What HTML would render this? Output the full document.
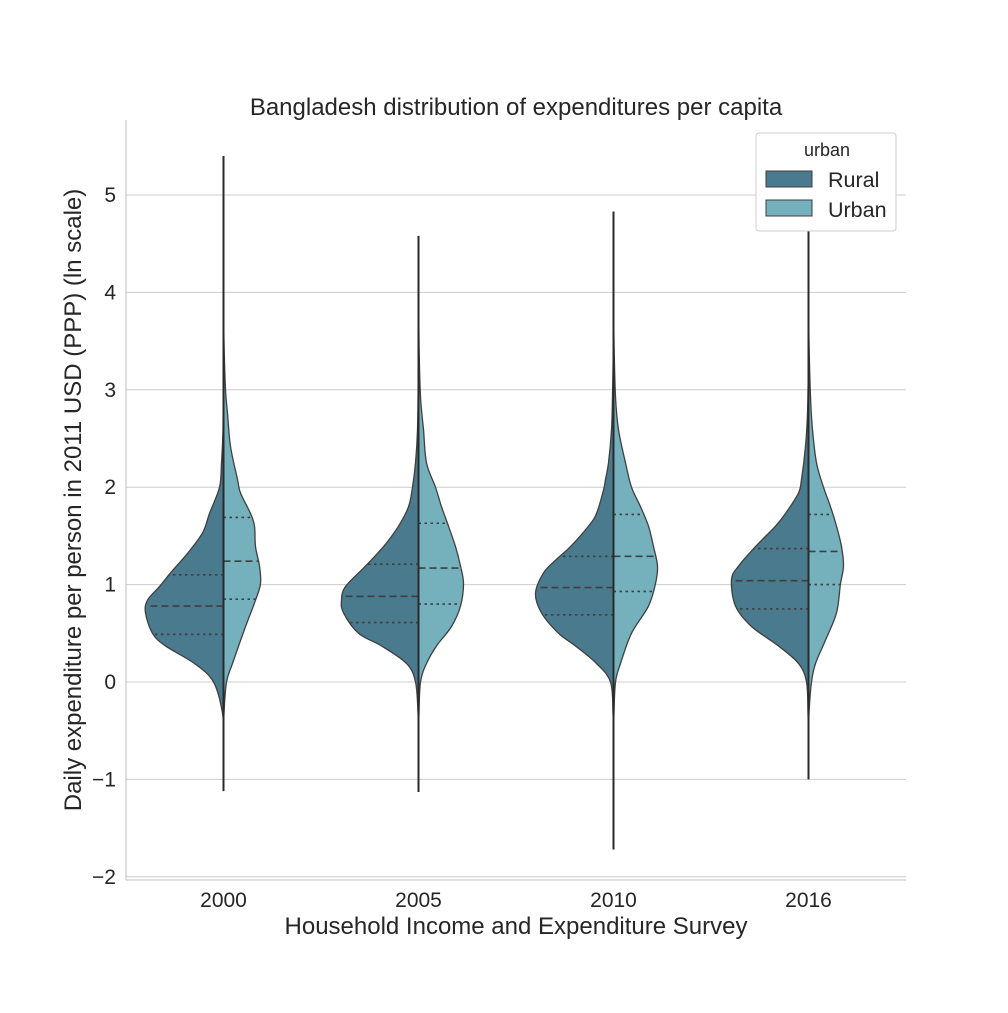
<!DOCTYPE html>
<html><head><meta charset="utf-8"><style>
body{margin:0;background:#fff;}
svg text{font-family:"Liberation Sans",Arial,sans-serif;fill:#262626;}
</style></head><body>
<svg id="chart" width="1008" height="1008" viewBox="0 0 1008 1008">
<rect width="1008" height="1008" fill="#fff"/>
<g id="grid"></g>
<g id="violins"></g>
<g id="axes"></g>
<text x="516" y="115" text-anchor="middle" font-size="24">Bangladesh distribution of expenditures per capita</text>
<text x="516" y="934" text-anchor="middle" font-size="24">Household Income and Expenditure Survey</text>
<text transform="translate(81,500) rotate(-90)" text-anchor="middle" font-size="24">Daily expenditure per person in 2011 USD (PPP) (ln scale)</text>
<g>
<rect x="756" y="133" width="140" height="98" rx="3" fill="#fff" stroke="#ccc" stroke-width="1"/>
<text x="827" y="156" text-anchor="middle" font-size="18">urban</text>
<rect x="766" y="171" width="46" height="16" fill="#497a8d" stroke="#3f3f3f"/>
<text x="828" y="187" font-size="21.5">Rural</text>
<rect x="766" y="200" width="46" height="16" fill="#75b1bc" stroke="#3f3f3f"/>
<text x="828" y="217" font-size="21.5">Urban</text>
</g>
</svg>
<script>
const categories=["2000","2005","2010","2016"];
const yTicks=[-2,-1,0,1,2,3,4,5];
const whiskerMin=[-1.12,-1.13,-1.72,-1.0];
const whiskerMax=[5.4,4.58,4.83,5.3];
// [value, density] pairs
const rural2000=[[-0.6,0],[-0.32,1],[0,10],[0.19,29],[0.37,58],[0.5,71],[0.71,78],[0.84,76],[0.98,64],[1.12,53],[1.32,36],[1.53,21],[1.73,14],[2.0,4],[2.25,2],[2.59,0.5],[3.3,0]];
const urban2000=[[-0.6,0],[-0.32,0.5],[0,3],[0.19,9],[0.54,21],[0.84,32],[1.01,37],[1.19,36],[1.39,32],[1.6,31],[1.73,27],[1.94,17],[2.08,14],[2.42,7],[2.76,4],[3.0,2],[3.5,0.5],[4.0,0]];
const rural2005=[[-0.6,0],[-0.32,0.5],[0,3],[0.19,12],[0.37,37],[0.5,60],[0.71,75],[0.84,77],[0.98,73],[1.19,53],[1.39,35],[1.6,20],[1.8,10],[2.0,6],[2.25,3],[2.59,1],[3.3,0]];
const urban2005=[[-0.6,0],[-0.32,0.5],[0,2],[0.19,8],[0.37,18],[0.57,33],[0.78,42],[1.01,45],[1.19,42],[1.39,37],[1.6,30],[1.8,23],[2.0,17],[2.25,8],[2.59,5],[2.93,2],[3.5,0.5],[4.3,0]];
const rural2010=[[-0.6,0],[-0.32,0.5],[0,3],[0.19,17],[0.37,38],[0.5,55],[0.71,72],[0.91,78],[1.12,70],[1.25,58],[1.39,43],[1.6,25],[1.73,17],[1.97,10],[2.08,8],[2.25,5],[2.59,2],[2.93,1],[3.5,0]];
const urban2010=[[-0.6,0],[-0.32,0.5],[0,2],[0.19,7],[0.5,18],[0.78,35],[1.01,42],[1.19,44],[1.39,40],[1.6,35],[1.8,27],[2.0,18],[2.25,12],[2.59,5],[2.93,2],[3.5,0.5],[4.0,0]];
const rural2016=[[-0.6,0],[-0.32,0.5],[0,2],[0.19,10],[0.37,30],[0.57,57],[0.78,73],[1.05,77],[1.19,70],[1.39,53],[1.6,33],[1.73,23],[1.94,10],[2.08,7],[2.42,3],[2.76,1],[3.3,0]];
const urban2016=[[-0.6,0],[-0.32,0.5],[0,3],[0.19,7],[0.43,17],[0.71,28],[1.01,32],[1.19,35],[1.39,33],[1.6,28],[1.8,22],[2.0,15],[2.25,8],[2.59,4],[2.93,2],[3.5,0.5],[4.0,0]];
const ruralQ=[[0.49,0.78,1.1],[0.61,0.88,1.21],[0.69,0.97,1.29],[0.75,1.04,1.37]];
const urbanQ=[[0.85,1.24,1.69],[0.8,1.17,1.63],[0.93,1.29,1.72],[1.0,1.34,1.72]];
const ruralData=[rural2000,rural2005,rural2010,rural2016];
const urbanData=[urban2000,urban2005,urban2010,urban2016];

const NS="http://www.w3.org/2000/svg";
const X0=126,X1=906,Ytop=120,Ybot=880;
function yScale(v){return 682-v*97.4;}
function xScale(i){return X0+(i+0.5)*(X1-X0)/categories.length;}
function mk(tag,attrs,parent){const e=document.createElementNS(NS,tag);for(const k in attrs)e.setAttribute(k,attrs[k]);parent.appendChild(e);return e;}
const grid=document.getElementById('grid'),vg=document.getElementById('violins'),ax=document.getElementById('axes');
yTicks.forEach(t=>{
  const y=yScale(t);
  const l=mk('line',{x1:X0,x2:X1,y1:y,y2:y,stroke:'#cccccc','stroke-width':1},grid);
  
  
  const tx=mk('text',{x:X0-10,y:y+7,'text-anchor':'end','font-size':21},ax);
  tx.textContent=t<0?'\u2212'+(-t):String(t);
  
  
});
function interp(arr,v){for(let k=0;k<arr.length-1;k++){if(v>=arr[k][0]&&v<=arr[k+1][0]){const t=(v-arr[k][0])/(arr[k+1][0]-arr[k][0]);return arr[k][1]+t*(arr[k+1][1]-arr[k][1]);}}return 0;}
function smoothPath(pts){let d='M'+pts[0][0].toFixed(2)+','+pts[0][1].toFixed(2);
  for(let i=0;i<pts.length-1;i++){const p0=pts[Math.max(0,i-1)],p1=pts[i],p2=pts[i+1],p3=pts[Math.min(pts.length-1,i+2)];
    const c1=[p1[0]+(p2[0]-p0[0])/6,p1[1]+(p2[1]-p0[1])/6],c2=[p2[0]-(p3[0]-p1[0])/6,p2[1]-(p3[1]-p1[1])/6];
    d+='C'+c1[0].toFixed(2)+','+c1[1].toFixed(2)+' '+c2[0].toFixed(2)+','+c2[1].toFixed(2)+' '+p2[0].toFixed(2)+','+p2[1].toFixed(2);}
  return d;}
function half(i,arr,side,color,name,q){
  const cx=xScale(i);
  const pts=arr.map(p=>[cx+side*p[1],yScale(p[0])]);
  let d=smoothPath(pts);
  d+='L'+cx+','+yScale(arr[arr.length-1][0])+'L'+cx+','+yScale(arr[0][0])+'Z';
  const p=mk('path',{d:d,fill:color,stroke:'#3f3f3f','stroke-width':1.3,'stroke-linejoin':'round'},vg);
  
  
  q.forEach((v,k)=>{
    const w=interp(arr,v);const y=yScale(v);
    const l=mk('line',{x1:cx,x2:cx+side*w,y1:y,y2:y,stroke:'#3f3f3f','stroke-width':1.6,'stroke-dasharray':k===1?'7,4':'2.5,3.5'},vg);
    
    
  });
}
categories.forEach((c,i)=>{
  half(i,ruralData[i],-1,'#497a8d','violin-rural-'+c,ruralQ[i]);
  half(i,urbanData[i],1,'#75b1bc','violin-urban-'+c,urbanQ[i]);
  const cx=xScale(i);
  const w=mk('line',{x1:cx,x2:cx,y1:yScale(whiskerMin[i]),y2:yScale(whiskerMax[i]),stroke:'#2a2a2a','stroke-width':2},vg);
  
  
  const tx=mk('text',{x:cx,y:907,'text-anchor':'middle','font-size':21},ax);
  tx.textContent=c;
  
  
});
const ls=mk('line',{x1:X0,x2:X0,y1:Ytop,y2:Ybot,stroke:'#cccccc','stroke-width':1.3},ax);


const bs=mk('line',{x1:X0,x2:X1,y1:Ybot,y2:Ybot,stroke:'#cccccc','stroke-width':1.3},ax);


</script>
</body></html>
